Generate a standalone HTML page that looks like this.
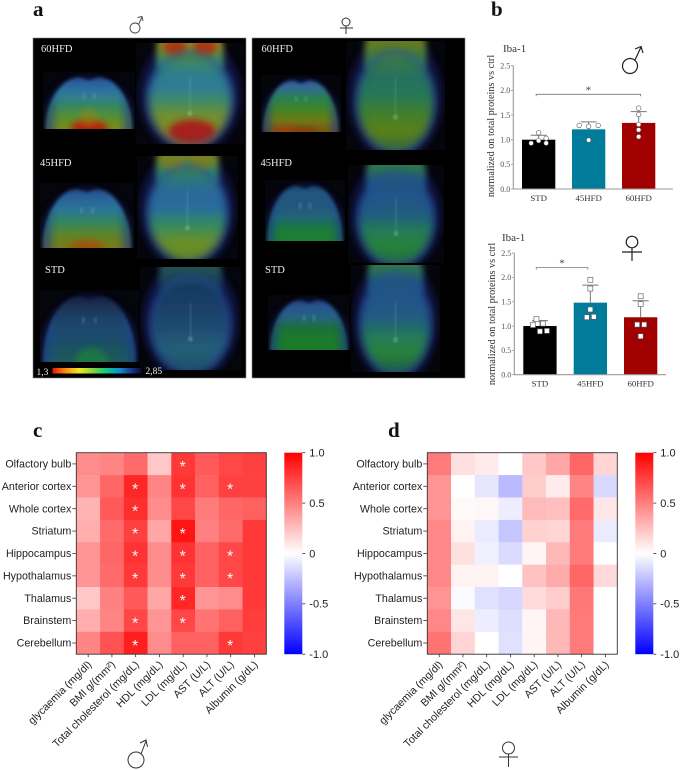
<!DOCTYPE html>
<html lang="en">
<head>
<meta charset="utf-8">
<title>Iba-1 PET and correlation figure</title>
<style>
html,body{margin:0;padding:0;background:#fff;width:681px;height:770px;overflow:hidden}
svg{display:block}
.serif{font-family:"Liberation Serif",serif}
.sans{font-family:"Liberation Sans",sans-serif}
</style>
</head>
<body>
<svg id="fig" xmlns="http://www.w3.org/2000/svg" width="681" height="770" viewBox="0 0 681 770">
  <defs>
    <filter id="b1" x="-20%" y="-20%" width="140%" height="140%"><feGaussianBlur stdDeviation="1.5"/></filter>
    <filter id="b3" x="-40%" y="-40%" width="180%" height="180%"><feGaussianBlur stdDeviation="3.2"/></filter>
    <filter id="b2" x="-30%" y="-30%" width="160%" height="160%"><feGaussianBlur stdDeviation="4"/></filter>
    <radialGradient id="edgeR" cx="0.5" cy="0.5" r="0.5">
      <stop offset="0" stop-color="#1f4a98" stop-opacity="0"/><stop offset="0.78" stop-color="#1f4a98" stop-opacity="0"/>
      <stop offset="1" stop-color="#1f4a98" stop-opacity="0.55"/>
    </radialGradient>
    <linearGradient id="edgeL" x1="0" y1="0" x2="1" y2="0">
      <stop offset="0" stop-color="#1a3a88" stop-opacity="0.75"/><stop offset="0.16" stop-color="#1f4a98" stop-opacity="0"/>
      <stop offset="0.84" stop-color="#1f4a98" stop-opacity="0"/><stop offset="1" stop-color="#1a3a88" stop-opacity="0.75"/>
    </linearGradient>
    <linearGradient id="cbar" x1="0" y1="0" x2="0" y2="1">
      <stop offset="0" stop-color="#ff0000"/><stop offset="0.5" stop-color="#ffffff"/><stop offset="1" stop-color="#0000ff"/>
    </linearGradient>
    <linearGradient id="rainbow" x1="0" y1="0" x2="1" y2="0">
      <stop offset="0" stop-color="#e01808"/><stop offset="0.14" stop-color="#f58a10"/><stop offset="0.3" stop-color="#f5e820"/>
      <stop offset="0.48" stop-color="#70d040"/><stop offset="0.6" stop-color="#10c880"/><stop offset="0.75" stop-color="#1090d0"/>
      <stop offset="0.88" stop-color="#1a3a90"/><stop offset="1" stop-color="#0a0a30"/>
    </linearGradient>
  </defs>

  <text class="serif" x="33" y="16" font-size="21" font-weight="bold" fill="#111">a</text>
  <text class="serif" x="491" y="16" font-size="21" font-weight="bold" fill="#111">b</text>
  <text class="serif" x="33" y="437" font-size="21" font-weight="bold" fill="#111">c</text>
  <text class="serif" x="388" y="437" font-size="21" font-weight="bold" fill="#111">d</text>

  <g fill="none" stroke="#444" stroke-width="0.9">
    <circle cx="135" cy="28" r="5"/><path d="M138.5 24.5L142 17M137.5 17.5L142 16.5L143 21"/>
  </g>
  <g fill="none" stroke="#333" stroke-width="1">
    <circle cx="346" cy="22" r="4"/><path d="M346 26V34M340 28H353"/>
  </g>

  <rect x="33" y="38" width="213" height="340" fill="#000" stroke="#888" stroke-width="0.6"/>
  <rect x="252" y="38" width="213" height="340" fill="#000" stroke="#888" stroke-width="0.6"/>
  <g id="brains"></g>

  <g class="serif" fill="#eee" font-size="10.5">
    <text x="41" y="52">60HFD</text>
    <text x="40" y="166">45HFD</text>
    <text x="45" y="273">STD</text>
    <text x="261.5" y="52">60HFD</text>
    <text x="260.5" y="166">45HFD</text>
    <text x="265" y="273">STD</text>
    <text x="36.5" y="375" font-size="9.5">1,3</text>
    <text x="145.5" y="374" font-size="9.5">2,85</text>
  </g>
  <rect x="52.5" y="368" width="89" height="5.5" fill="url(#rainbow)"/>

  <g id="barsMale"></g>
  <g id="barsFemale"></g>

  <g fill="none" stroke="#222" stroke-width="1.2">
    <circle cx="630" cy="66" r="7.5"/><path d="M635 60L641 47M635 49L641 46.5L643 53"/>
  </g>
  <g fill="none" stroke="#222" stroke-width="1.2">
    <circle cx="632" cy="242" r="5.8"/><path d="M632 248V261M622 252H642"/>
  </g>

  <g id="heatMale"></g>
  <g id="heatFemale"></g>

  <g fill="none" stroke="#333" stroke-width="1">
    <circle cx="136" cy="760" r="8"/><path d="M141 754L146 741M140 743L146 740L147.5 747"/>
  </g>
  <g fill="none" stroke="#333" stroke-width="1">
    <circle cx="508.5" cy="748" r="6"/><path d="M508.5 754V767M499 757H518"/>
  </g>
</svg>
<script>
// ---------- Bar chart data (panel b) ----------
const barGroups = ['STD', '45HFD', '60HFD'];
const barTicks = [0, 0.5, 1, 1.5, 2, 2.5];
const maleMeans = [1.0, 1.21, 1.34];
const maleErrorTops = [1.09, 1.36, 1.57];
const malePoints = [[0.93, 1.14, 0.98, 1.03, 0.93], [1.29, 1.27, 1.29, 0.99], [1.64, 1.51, 1.31, 1.2, 1.06]];
const femaleMeans = [1.0, 1.48, 1.18];
const femaleErrorTops = [1.11, 1.84, 1.52];
const femalePoints = [[1.02, 1.14, 1.05, 0.89, 0.9], [1.95, 1.77, 1.34, 1.18, 1.19], [1.61, 1.45, 1.03, 1.03, 0.79]];
const barColors = ['#000000', '#007c9a', '#a00000'];

// ---------- Heatmap data (panels c, d) ----------
const regions = ['Olfactory bulb', 'Anterior cortex', 'Whole cortex', 'Striatum', 'Hippocampus', 'Hypothalamus', 'Thalamus', 'Brainstem', 'Cerebellum'];
const measures = ['glycaemia (mg/dl)', 'BMI g/(mm²)', 'Total cholesterol (mg/dL)', 'HDL (mg/dL)', 'LDL (mg/dL)', 'AST (U/L)', 'ALT (U/L)', 'Albumin (g/dL)'];
const colorbarTicks = [1, 0.5, 0, -0.5, -1];
const maleCorr = [
  [.45, .48, .58, .22, .78, .65, .72, .75],
  [.42, .60, .85, .48, .80, .62, .75, .75],
  [.30, .65, .82, .45, .72, .52, .60, .62],
  [.32, .58, .75, .35, .92, .50, .58, .78],
  [.42, .60, .80, .45, .80, .62, .72, .78],
  [.42, .58, .78, .45, .78, .62, .72, .78],
  [.22, .50, .65, .35, .85, .42, .45, .78],
  [.32, .48, .72, .42, .72, .55, .62, .76],
  [.48, .68, .88, .45, .62, .62, .78, .75]
];
const femaleCorr = [
  [.52, .12, .08, 0, .22, .35, .60, .17],
  [.42, 0, -.10, -.27, .20, .08, .48, -.15],
  [.42, .02, .03, -.07, .27, .25, .58, .10],
  [.47, .05, -.08, -.22, .18, .17, .52, -.08],
  [.47, .12, -.06, -.14, .04, .28, .52, 0],
  [.47, .05, .05, 0, .24, .33, .60, .15],
  [.42, -.02, -.12, -.16, .14, .20, .53, 0],
  [.47, .10, -.07, -.13, .04, .28, .52, 0],
  [.55, .17, 0, -.12, .04, .28, .52, 0]
];
const maleStars = [
  [0, 0, 0, 0, 1, 0, 0, 0],
  [0, 0, 1, 0, 1, 0, 1, 0],
  [0, 0, 1, 0, 0, 0, 0, 0],
  [0, 0, 1, 0, 1, 0, 0, 0],
  [0, 0, 1, 0, 1, 0, 1, 0],
  [0, 0, 1, 0, 1, 0, 1, 0],
  [0, 0, 0, 0, 1, 0, 0, 0],
  [0, 0, 1, 0, 1, 0, 0, 0],
  [0, 0, 1, 0, 0, 0, 1, 0]
];
const femaleStars = [];

const NS = 'http://www.w3.org/2000/svg';
function mk(parent, tag, attrs, text) {
  const el = document.createElementNS(NS, tag);
  for (const k in attrs) el.setAttribute(k, attrs[k]);
  if (text !== undefined) el.textContent = text;
  parent.appendChild(el);
  return el;
}

// ---------- PET images: name, kind, box, vertical colour stops, local hot spots ----------
const brainImages = [
  ['male-60hfd-coronal', 'c', 43, 72, 92, 57, ['#24306e', '#2a62a0', '#2f7a98', '#35885f', '#5a8f30', '#7a8a18'],
    [[.5, 1, .2, .16, '#b81a08', .95], [.5, .8, .1, .16, '#a08a10', .45]]],
  ['male-60hfd-horizontal', 'h', 136, 43, 108, 101, ['#9a8a1c', '#4a8a50', '#2f8088', '#2f7a98', '#3f8a68', '#6f9030', '#8a8a20', '#9a7a18'],
    [[.36, .04, .11, .08, '#b02a10', .85], [.64, .04, .11, .08, '#b02a10', .85], [.52, .88, .22, .12, '#a81c1c', .95]]],
  ['male-45hfd-coronal', 'c', 40, 183, 94, 65, ['#1f2c6a', '#285f98', '#2c7498', '#338660', '#5f8528', '#7a7a14'],
    [[.5, 1, .18, .12, '#a84a10', .8]]],
  ['male-45hfd-horizontal', 'h', 137, 156, 101, 103, ['#7a8420', '#2f8068', '#2a6a98', '#2a6c9c', '#338a60', '#6a9028', '#6a8a20'],
    [[.36, .07, .1, .07, '#8a7a18', .6], [.64, .07, .1, .07, '#8a7a18', .6]]],
  ['male-std-coronal', 'c', 40, 290, 99, 72, ['#16163a', '#1a2e50', '#1f4268', '#1f4a70', '#1f5260', '#1f5c58'],
    [[.52, 1, .16, .2, '#1f8a38', .6]]],
  ['male-std-horizontal', 'h', 140, 267, 101, 103, ['#24524f', '#183a60', '#1a4068', '#1f4c72', '#245f78', '#1f5068'], []],
  ['female-60hfd-coronal', 'c', 261, 75, 80, 57, ['#28367e', '#33689a', '#2a8050', '#3f8428', '#6f7a14', '#7a5410'],
    [[.3, 1, .18, .12, '#a03c0c', .7], [.55, 1, .14, .09, '#8a2c0a', .6]]],
  ['female-60hfd-horizontal', 'h', 346, 41, 99, 109, ['#6a7a1c', '#3a7a48', '#26705f', '#287858', '#40802c', '#5a8018', '#386c38'], []],
  ['female-45hfd-coronal', 'c', 265, 180, 80, 61, ['#183466', '#215580', '#215580', '#216478', '#1c7a3c', '#1c8030'], []],
  ['female-45hfd-horizontal', 'h', 348, 165, 96, 98, ['#2f7848', '#215580', '#21558a', '#215c80', '#257a58', '#25823a', '#256c48'], []],
  ['female-std-coronal', 'c', 268, 295, 82, 55, ['#262668', '#25548e', '#256284', '#1c7038', '#1c7a2c', '#1c7a2c'], []],
  ['female-std-horizontal', 'h', 351, 265, 89, 107, ['#2f7848', '#215580', '#21558a', '#215c80', '#257a58', '#25823a', '#245c48'], []]
];
const defs = document.querySelector('#fig defs');
const brainsG = document.getElementById('brains');
brainImages.forEach(function (spec, i) {
  const name = spec[0], kind = spec[1], x = spec[2], y = spec[3], w = spec[4], h = spec[5], cols = spec[6], hots = spec[7];
  const grad = mk(defs, 'linearGradient', { id: 'bg' + i, x1: 0, y1: y, x2: 0, y2: y + h, gradientUnits: 'userSpaceOnUse' });
  cols.forEach(function (c, k) { mk(grad, 'stop', { offset: k / (cols.length - 1), 'stop-color': c }); });
  const clip = mk(defs, 'clipPath', { id: 'bc' + i });
  mk(clip, 'rect', { x: x, y: y, width: w, height: h });
  const g = mk(brainsG, 'g', { 'clip-path': 'url(#bc' + i + ')' });
  
  
  mk(g, 'rect', { x: x, y: y, width: w, height: h, fill: '#05050c' });
  const cx = x + w / 2;
  if (kind === 'c') {
    const top = y + h * 0.08, ry = h * 0.8, cy = top + ry;
    mk(g, 'ellipse', { cx: cx, cy: cy, rx: w * 0.5, ry: ry, fill: '#141e5c', opacity: .7, filter: 'url(#b2)' });
    const d = 'M' + (cx - w * 0.46) + ' ' + (y + h + 6) +
      ' C' + (cx - w * 0.48) + ' ' + (y + h * 0.5) + ' ' + (cx - w * 0.3) + ' ' + (top + 1) + ' ' + (cx - w * 0.1) + ' ' + (top + 1) +
      ' L' + cx + ' ' + (top + 4) + ' L' + (cx + w * 0.1) + ' ' + (top + 1) +
      ' C' + (cx + w * 0.3) + ' ' + (top + 1) + ' ' + (cx + w * 0.48) + ' ' + (y + h * 0.5) + ' ' + (cx + w * 0.46) + ' ' + (y + h + 6) + ' Z';
    mk(g, 'path', { d: d, fill: 'url(#bg' + i + ')', filter: 'url(#b1)' });
    hots.forEach(function (s) {
      mk(g, 'ellipse', { cx: x + s[0] * w, cy: y + s[1] * h, rx: s[2] * w, ry: s[3] * h, fill: s[4], opacity: s[5], filter: 'url(#b3)' });
    });
    mk(g, 'path', { d: d, fill: 'url(#edgeL)', filter: 'url(#b1)' });
    mk(g, 'ellipse', { cx: cx - w * 0.06, cy: y + h * 0.42, rx: 1.3, ry: 3, fill: '#8fc8c0', opacity: .4, filter: 'url(#b1)' });
    mk(g, 'ellipse', { cx: cx + w * 0.06, cy: y + h * 0.42, rx: 1.3, ry: 3, fill: '#8fc8c0', opacity: .4, filter: 'url(#b1)' });
  } else {
    mk(g, 'ellipse', { cx: cx, cy: y + h * .52, rx: w * .47, ry: h * .58, fill: '#141e5c', opacity: .75, filter: 'url(#b2)' });
    const bodyCy = y + h * .56, bodyRx = w * .39, bodyRy = h * .47;
    mk(g, 'rect', { x: cx - w * .31, y: y - 6, width: w * .62, height: h * .34, rx: 8, fill: 'url(#bg' + i + ')', filter: 'url(#b3)' });
    mk(g, 'ellipse', { cx: cx, cy: bodyCy, rx: bodyRx, ry: bodyRy, fill: 'url(#bg' + i + ')', filter: 'url(#b3)' });
    hots.forEach(function (s) {
      mk(g, 'ellipse', { cx: x + s[0] * w, cy: y + s[1] * h, rx: s[2] * w, ry: s[3] * h, fill: s[4], opacity: s[5], filter: 'url(#b3)' });
    });
    mk(g, 'ellipse', { cx: cx, cy: bodyCy, rx: bodyRx + 2, ry: bodyRy + 2, fill: 'url(#edgeR)', filter: 'url(#b3)' });
    mk(g, 'rect', { x: cx - 1, y: y + h * 0.34, width: 2, height: h * 0.36, fill: '#a0d8d0', opacity: .2, filter: 'url(#b1)' });
    mk(g, 'ellipse', { cx: cx, cy: y + h * 0.7, rx: 2, ry: 2, fill: '#c0f0d0', opacity: .45, filter: 'url(#b1)' });
  }
});

// ---------- Bar charts ----------
function drawBars(rootId, cfg, means, tops, points, marker) {
  const root = document.getElementById(rootId);
  const yOf = function (v) { return cfg.y0 + (cfg.y25 - cfg.y0) * v / 2.5; };
  const serif = '"Liberation Serif",serif';
  means.forEach(function (m, i) {
    const x = cfg.barX[i];
    const bar = mk(root, 'rect', { x: x, y: yOf(m), width: cfg.barW, height: cfg.y0 - yOf(m), fill: barColors[i] });
    
    
    const mx = x + cfg.barW / 2;
    const err = mk(root, 'path', { d: 'M' + mx + ' ' + yOf(m) + 'V' + yOf(tops[i]) + 'M' + (mx - 8) + ' ' + yOf(tops[i]) + 'H' + (mx + 8), stroke: '#777', 'stroke-width': 1, fill: 'none' });
    
    
    points[i].forEach(function (v, k) {
      const off = cfg.spread[i][k] || 0;
      let p;
      if (marker === 'circle') {
        p = mk(root, 'circle', { cx: mx + off, cy: yOf(v), r: 2.3, fill: '#fff', stroke: '#555', 'stroke-width': .6 });
      } else {
        p = mk(root, 'rect', { x: mx + off - 2.5, y: yOf(v) - 2.5, width: 5, height: 5, fill: '#fff', stroke: '#555', 'stroke-width': .6 });
      }
      
      
    });
    const lab = mk(root, 'text', { x: mx, y: cfg.y0 + cfg.catDy, 'text-anchor': 'middle', 'font-family': serif, 'font-size': 8.8, fill: '#333' }, barGroups[i]);
    
    
  });
  const axis = mk(root, 'path', { d: 'M' + cfg.axisX + ' ' + cfg.y25 + 'V' + cfg.y0 + 'H' + cfg.axisEnd, stroke: '#999', 'stroke-width': 1.1, fill: 'none' });
  
  
  barTicks.forEach(function (t) {
    const y = yOf(t);
    mk(root, 'path', { d: 'M' + (cfg.axisX - 2.5) + ' ' + y + 'H' + cfg.axisX, stroke: '#999', 'stroke-width': .8 });
    const tl = mk(root, 'text', { x: cfg.axisX - 3, y: y + 2.8, 'text-anchor': 'end', 'font-family': serif, 'font-size': 8, fill: '#555' }, t.toFixed(1));
    
    
  });
  const title = mk(root, 'text', { x: cfg.titleX, y: cfg.titleY, 'font-family': serif, 'font-size': 11, fill: '#333' }, 'Iba-1');
  
  
  const yt = mk(root, 'text', { transform: 'translate(' + cfg.ytX + ' ' + cfg.ytY + ') rotate(-90)', 'text-anchor': 'middle', 'font-family': serif, 'font-size': 10.2, fill: '#333' }, 'normalized on total proteins vs ctrl');
  
  
  const x1 = cfg.barX[cfg.sig[0]] + cfg.barW / 2 + cfg.sigInset[0], x2 = cfg.barX[cfg.sig[1]] + cfg.barW / 2 + cfg.sigInset[1];
  const br = mk(root, 'path', { d: 'M' + x1 + ' ' + (yOf(cfg.sigV) + 2) + 'V' + yOf(cfg.sigV) + 'H' + x2 + 'V' + (yOf(cfg.sigV) + 2), stroke: '#777', 'stroke-width': .8, fill: 'none' });
  
  
  const st = mk(root, 'text', { x: (x1 + x2) / 2, y: yOf(cfg.sigV) - 1, 'text-anchor': 'middle', 'font-family': serif, 'font-size': 11, fill: '#444' }, '*');
  
  
}
drawBars('barsMale', {
  y0: 189, y25: 65.7, axisX: 513.3, axisEnd: 673, barX: [522, 572, 622], barW: 33.3, catDy: 12,
  titleX: 503, titleY: 52, ytX: 494, ytY: 126, sig: [0, 2], sigV: 1.92, sigInset: [-2.5, 2],
  spread: [[-7.5, 0, 0, 7.5, 7.5], [-9.5, 0, 9.5, 0], [0, 0, 0, 0, 0]]
}, maleMeans, maleErrorTops, malePoints, 'circle');
drawBars('barsFemale', {
  y0: 374.7, y25: 253, axisX: 514.3, axisEnd: 666, barX: [523.3, 573.7, 624], barW: 33.3, catDy: 12,
  titleX: 502, titleY: 241, ytX: 495, ytY: 314, sig: [0, 1], sigV: 2.2, sigInset: [-3.7, -2.5],
  spread: [[-7, -3.5, 3, 0, 7], [0, 0, 0, -3.5, 3.5], [0, 0, -3.5, 3.5, 0]]
}, femaleMeans, femaleErrorTops, femalePoints, 'square');

// ---------- Heatmaps ----------
function corrColor(v) {
  const t = Math.min(1, Math.abs(v));
  const o = Math.round(255 * (1 - t));
  return v >= 0 ? 'rgb(255,' + o + ',' + o + ')' : 'rgb(' + o + ',' + o + ',255)';
}
function drawHeat(rootId, cfg, values, stars) {
  const root = document.getElementById(rootId);
  const cw = cfg.w / measures.length, ch = cfg.h / regions.length;
  regions.forEach(function (rn, r) {
    measures.forEach(function (mn, c) {
      const cell = mk(root, 'rect', { x: cfg.x + c * cw, y: cfg.y + r * ch, width: cw + .3, height: ch + .3, fill: corrColor(values[r][c]) });
      
      
      if (stars[r] && stars[r][c]) {
        const st = mk(root, 'text', { x: cfg.x + (c + .5) * cw - .5, y: cfg.y + (r + .5) * ch + 8, 'text-anchor': 'middle', 'font-family': '"Liberation Sans",sans-serif', 'font-size': 15.5, fill: '#fff' }, '*');
        
        
      }
    });
    const ty = cfg.y + (r + .5) * ch;
    mk(root, 'path', { d: 'M' + (cfg.x - 4) + ' ' + ty + 'H' + cfg.x, stroke: '#333', 'stroke-width': .8 });
    const lab = mk(root, 'text', { x: cfg.x - 5, y: ty + 3.6, 'text-anchor': 'end', 'font-family': '"Liberation Sans",sans-serif', 'font-size': 10.7, fill: '#222' }, rn);
    
    
  });
  measures.forEach(function (mn, c) {
    const tx = cfg.x + (c + .5) * cw, by = cfg.y + cfg.h;
    mk(root, 'path', { d: 'M' + tx + ' ' + by + 'v3', stroke: '#333', 'stroke-width': .8 });
    const lab = mk(root, 'text', { transform: 'translate(' + (tx + 4) + ' ' + (by + 11) + ') rotate(-45)', 'text-anchor': 'end', 'font-family': '"Liberation Sans",sans-serif', 'font-size': 10.7, fill: '#222' }, mn);
    
    
  });
  const frame = mk(root, 'rect', { x: cfg.x, y: cfg.y, width: cfg.w, height: cfg.h, fill: 'none', stroke: '#333', 'stroke-width': .9 });
  
  
  const bar = mk(root, 'rect', { x: cfg.barX, y: cfg.y, width: 18, height: cfg.h, fill: 'url(#cbar)' });
  
  
  colorbarTicks.forEach(function (t) {
    const y = cfg.y + cfg.h * (1 - t) / 2;
    mk(root, 'path', { d: 'M' + (cfg.barX + 18) + ' ' + y + 'h3', stroke: '#333', 'stroke-width': .8 });
    const txt = t === 0 ? '0' : t.toFixed(1);
    const lab = mk(root, 'text', { x: cfg.barX + 25, y: y + 3.8, 'font-family': '"Liberation Sans",sans-serif', 'font-size': 11, fill: '#222' }, txt);
    
    
  });
}
drawHeat('heatMale', { x: 76.3, y: 452.7, w: 190, h: 201.5, barX: 284.3 }, maleCorr, maleStars);
drawHeat('heatFemale', { x: 427.3, y: 452.7, w: 190, h: 201.5, barX: 635.3 }, femaleCorr, femaleStars);
</script>
</body>
</html>
